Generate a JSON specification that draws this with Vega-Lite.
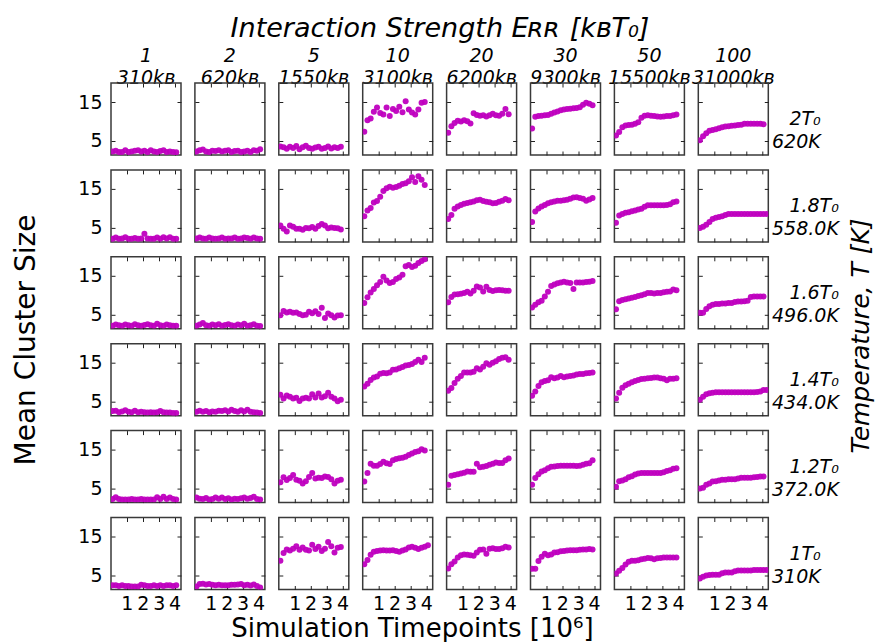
{
"$schema": "https://vega.github.io/schema/vega-lite/v6.json",
"background": "white",
"padding": {"left": 12, "top": 15, "right": 0, "bottom": 0},
"title": {"text": "Simulation Timepoints [10⁶]", "orient": "bottom", "anchor": "middle", "fontSize": 26, "fontWeight": "normal", "font": "DejaVu Sans", "color": "black", "offset": 3, "dx": -31},
"config": {
  "font": "DejaVu Sans",
  "view": {"stroke": "#3a3a3a", "strokeWidth": 1.5},
  "axis": {"labelFont": "DejaVu Sans", "labelColor": "black", "labelFontSize": 19},
  "header": {"labelFont": "DejaVu Sans", "titleFont": "DejaVu Sans", "labelColor": "black", "titleColor": "black", "titleFontWeight": "normal"}
},
"vconcat": [{
  "title": {"text": "Mean Cluster Size", "orient": "left", "anchor": "middle", "fontSize": 28, "fontWeight": "normal", "font": "DejaVu Sans", "color": "black", "offset": 37, "dx": -26},
  "spacing": {"row": 12.9, "column": 11.9},
  "data": {"values": [
{"t":2,"e":1,"x":0.1,"y":2.3},{"t":2,"e":1,"x":0.3,"y":2.5},{"t":2,"e":1,"x":0.5,"y":2.2},{"t":2,"e":1,"x":0.7,"y":2.2},{"t":2,"e":1,"x":0.9,"y":2.6},{"t":2,"e":1,"x":1.1,"y":2.2},{"t":2,"e":1,"x":1.3,"y":2.3},{"t":2,"e":1,"x":1.5,"y":2.5},{"t":2,"e":1,"x":1.7,"y":2.6},{"t":2,"e":1,"x":1.9,"y":2.3},{"t":2,"e":1,"x":2.1,"y":2.5},{"t":2,"e":1,"x":2.3,"y":2.2},{"t":2,"e":1,"x":2.5,"y":2.6},{"t":2,"e":1,"x":2.7,"y":2.3},{"t":2,"e":1,"x":2.9,"y":2.2},{"t":2,"e":1,"x":3.1,"y":2.4},{"t":2,"e":1,"x":3.3,"y":2.6},{"t":2,"e":1,"x":3.5,"y":2.2},{"t":2,"e":1,"x":3.7,"y":2.3},{"t":2,"e":1,"x":3.9,"y":2.2},{"t":2,"e":1,"x":4.1,"y":2.1},
{"t":2,"e":2,"x":0.1,"y":2.3},{"t":2,"e":2,"x":0.3,"y":2.6},{"t":2,"e":2,"x":0.5,"y":2.8},{"t":2,"e":2,"x":0.7,"y":2.3},{"t":2,"e":2,"x":0.9,"y":2.2},{"t":2,"e":2,"x":1.1,"y":2.5},{"t":2,"e":2,"x":1.3,"y":2.4},{"t":2,"e":2,"x":1.5,"y":2.6},{"t":2,"e":2,"x":1.7,"y":2.3},{"t":2,"e":2,"x":1.9,"y":2.5},{"t":2,"e":2,"x":2.1,"y":2.6},{"t":2,"e":2,"x":2.3,"y":2.2},{"t":2,"e":2,"x":2.5,"y":2.4},{"t":2,"e":2,"x":2.7,"y":2.5},{"t":2,"e":2,"x":2.9,"y":2.2},{"t":2,"e":2,"x":3.1,"y":2.3},{"t":2,"e":2,"x":3.3,"y":2.5},{"t":2,"e":2,"x":3.5,"y":2.2},{"t":2,"e":2,"x":3.7,"y":2.6},{"t":2,"e":2,"x":3.9,"y":2.5},{"t":2,"e":2,"x":4.1,"y":2.9},
{"t":2,"e":5,"x":0.1,"y":3.6},{"t":2,"e":5,"x":0.3,"y":3.4},{"t":2,"e":5,"x":0.5,"y":3.0},{"t":2,"e":5,"x":0.7,"y":3.5},{"t":2,"e":5,"x":0.9,"y":3.2},{"t":2,"e":5,"x":1.1,"y":3.7},{"t":2,"e":5,"x":1.3,"y":2.9},{"t":2,"e":5,"x":1.5,"y":3.4},{"t":2,"e":5,"x":1.7,"y":3.8},{"t":2,"e":5,"x":1.9,"y":3.2},{"t":2,"e":5,"x":2.1,"y":3.0},{"t":2,"e":5,"x":2.3,"y":3.3},{"t":2,"e":5,"x":2.5,"y":3.5},{"t":2,"e":5,"x":2.7,"y":3.0},{"t":2,"e":5,"x":2.9,"y":3.2},{"t":2,"e":5,"x":3.1,"y":3.6},{"t":2,"e":5,"x":3.3,"y":3.1},{"t":2,"e":5,"x":3.5,"y":3.4},{"t":2,"e":5,"x":3.7,"y":3.2},{"t":2,"e":5,"x":3.9,"y":3.5},
{"t":2,"e":10,"x":0.1,"y":7.4},{"t":2,"e":10,"x":0.3,"y":10.3},{"t":2,"e":10,"x":0.5,"y":10.8},{"t":2,"e":10,"x":0.7,"y":12.5},{"t":2,"e":10,"x":0.9,"y":13.6},{"t":2,"e":10,"x":1.1,"y":12.2},{"t":2,"e":10,"x":1.3,"y":11.8},{"t":2,"e":10,"x":1.5,"y":13.6},{"t":2,"e":10,"x":1.7,"y":11.4},{"t":2,"e":10,"x":1.9,"y":13.2},{"t":2,"e":10,"x":2.1,"y":12.7},{"t":2,"e":10,"x":2.3,"y":13.8},{"t":2,"e":10,"x":2.5,"y":12.4},{"t":2,"e":10,"x":2.7,"y":15.2},{"t":2,"e":10,"x":2.9,"y":13.1},{"t":2,"e":10,"x":3.1,"y":12.3},{"t":2,"e":10,"x":3.3,"y":11.8},{"t":2,"e":10,"x":3.5,"y":13.1},{"t":2,"e":10,"x":3.7,"y":14.8},{"t":2,"e":10,"x":3.9,"y":15.0},
{"t":2,"e":20,"x":0.1,"y":7.1},{"t":2,"e":20,"x":0.3,"y":8.8},{"t":2,"e":20,"x":0.5,"y":9.6},{"t":2,"e":20,"x":0.7,"y":10.2},{"t":2,"e":20,"x":0.9,"y":10.0},{"t":2,"e":20,"x":1.1,"y":10.3},{"t":2,"e":20,"x":1.3,"y":10.1},{"t":2,"e":20,"x":1.5,"y":9.5},{"t":2,"e":20,"x":1.7,"y":12.1},{"t":2,"e":20,"x":1.9,"y":11.7},{"t":2,"e":20,"x":2.1,"y":11.5},{"t":2,"e":20,"x":2.3,"y":11.6},{"t":2,"e":20,"x":2.5,"y":11.3},{"t":2,"e":20,"x":2.7,"y":11.6},{"t":2,"e":20,"x":2.9,"y":12.0},{"t":2,"e":20,"x":3.1,"y":11.6},{"t":2,"e":20,"x":3.3,"y":11.5},{"t":2,"e":20,"x":3.5,"y":12.0},{"t":2,"e":20,"x":3.7,"y":13.2},{"t":2,"e":20,"x":3.9,"y":11.9},
{"t":2,"e":30,"x":0.1,"y":8.2},{"t":2,"e":30,"x":0.3,"y":11.2},{"t":2,"e":30,"x":0.5,"y":11.4},{"t":2,"e":30,"x":0.7,"y":11.5},{"t":2,"e":30,"x":0.9,"y":11.6},{"t":2,"e":30,"x":1.1,"y":11.7},{"t":2,"e":30,"x":1.3,"y":12.0},{"t":2,"e":30,"x":1.5,"y":12.3},{"t":2,"e":30,"x":1.7,"y":12.6},{"t":2,"e":30,"x":1.9,"y":12.9},{"t":2,"e":30,"x":2.1,"y":13.1},{"t":2,"e":30,"x":2.3,"y":13.2},{"t":2,"e":30,"x":2.5,"y":13.3},{"t":2,"e":30,"x":2.7,"y":13.4},{"t":2,"e":30,"x":2.9,"y":13.5},{"t":2,"e":30,"x":3.1,"y":13.7},{"t":2,"e":30,"x":3.3,"y":14.3},{"t":2,"e":30,"x":3.5,"y":14.8},{"t":2,"e":30,"x":3.7,"y":14.6},{"t":2,"e":30,"x":3.9,"y":14.2},
{"t":2,"e":50,"x":0.1,"y":6.4},{"t":2,"e":50,"x":0.3,"y":7.3},{"t":2,"e":50,"x":0.5,"y":8.5},{"t":2,"e":50,"x":0.7,"y":9.0},{"t":2,"e":50,"x":0.9,"y":9.1},{"t":2,"e":50,"x":1.1,"y":9.2},{"t":2,"e":50,"x":1.3,"y":9.4},{"t":2,"e":50,"x":1.5,"y":9.8},{"t":2,"e":50,"x":1.7,"y":11.0},{"t":2,"e":50,"x":1.9,"y":11.5},{"t":2,"e":50,"x":2.1,"y":11.6},{"t":2,"e":50,"x":2.3,"y":11.5},{"t":2,"e":50,"x":2.5,"y":11.4},{"t":2,"e":50,"x":2.7,"y":11.3},{"t":2,"e":50,"x":2.9,"y":11.2},{"t":2,"e":50,"x":3.1,"y":11.3},{"t":2,"e":50,"x":3.3,"y":11.4},{"t":2,"e":50,"x":3.5,"y":11.4},{"t":2,"e":50,"x":3.7,"y":11.6},{"t":2,"e":50,"x":3.9,"y":11.8},
{"t":2,"e":100,"x":0.1,"y":5.2},{"t":2,"e":100,"x":0.3,"y":6.2},{"t":2,"e":100,"x":0.5,"y":7.0},{"t":2,"e":100,"x":0.7,"y":7.6},{"t":2,"e":100,"x":0.9,"y":7.8},{"t":2,"e":100,"x":1.1,"y":8.0},{"t":2,"e":100,"x":1.3,"y":8.3},{"t":2,"e":100,"x":1.5,"y":8.5},{"t":2,"e":100,"x":1.7,"y":8.7},{"t":2,"e":100,"x":1.9,"y":8.8},{"t":2,"e":100,"x":2.1,"y":8.9},{"t":2,"e":100,"x":2.3,"y":9.0},{"t":2,"e":100,"x":2.5,"y":9.1},{"t":2,"e":100,"x":2.7,"y":9.2},{"t":2,"e":100,"x":2.9,"y":9.4},{"t":2,"e":100,"x":3.1,"y":9.4},{"t":2,"e":100,"x":3.3,"y":9.4},{"t":2,"e":100,"x":3.5,"y":9.4},{"t":2,"e":100,"x":3.7,"y":9.4},{"t":2,"e":100,"x":3.9,"y":9.4},{"t":2,"e":100,"x":4.1,"y":9.3},
{"t":1.8,"e":1,"x":0.1,"y":2.2},{"t":1.8,"e":1,"x":0.3,"y":2.5},{"t":1.8,"e":1,"x":0.5,"y":2.2},{"t":1.8,"e":1,"x":0.7,"y":2.3},{"t":1.8,"e":1,"x":0.9,"y":2.6},{"t":1.8,"e":1,"x":1.1,"y":2.2},{"t":1.8,"e":1,"x":1.3,"y":2.2},{"t":1.8,"e":1,"x":1.5,"y":2.4},{"t":1.8,"e":1,"x":1.7,"y":2.2},{"t":1.8,"e":1,"x":1.9,"y":2.3},{"t":1.8,"e":1,"x":2.1,"y":3.5},{"t":1.8,"e":1,"x":2.3,"y":2.3},{"t":1.8,"e":1,"x":2.5,"y":2.2},{"t":1.8,"e":1,"x":2.7,"y":2.2},{"t":1.8,"e":1,"x":2.9,"y":2.5},{"t":1.8,"e":1,"x":3.1,"y":2.2},{"t":1.8,"e":1,"x":3.3,"y":2.6},{"t":1.8,"e":1,"x":3.5,"y":2.3},{"t":1.8,"e":1,"x":3.7,"y":2.6},{"t":1.8,"e":1,"x":3.9,"y":2.2},{"t":1.8,"e":1,"x":4.1,"y":2.2},
{"t":1.8,"e":2,"x":0.1,"y":2.3},{"t":1.8,"e":2,"x":0.3,"y":2.5},{"t":1.8,"e":2,"x":0.5,"y":2.3},{"t":1.8,"e":2,"x":0.7,"y":2.2},{"t":1.8,"e":2,"x":0.9,"y":2.5},{"t":1.8,"e":2,"x":1.1,"y":2.3},{"t":1.8,"e":2,"x":1.3,"y":2.2},{"t":1.8,"e":2,"x":1.5,"y":2.3},{"t":1.8,"e":2,"x":1.7,"y":2.5},{"t":1.8,"e":2,"x":1.9,"y":2.2},{"t":1.8,"e":2,"x":2.1,"y":2.3},{"t":1.8,"e":2,"x":2.3,"y":2.3},{"t":1.8,"e":2,"x":2.5,"y":2.5},{"t":1.8,"e":2,"x":2.7,"y":2.2},{"t":1.8,"e":2,"x":2.9,"y":2.3},{"t":1.8,"e":2,"x":3.1,"y":2.5},{"t":1.8,"e":2,"x":3.3,"y":2.4},{"t":1.8,"e":2,"x":3.5,"y":2.2},{"t":1.8,"e":2,"x":3.7,"y":2.5},{"t":1.8,"e":2,"x":3.9,"y":2.3},{"t":1.8,"e":2,"x":4.1,"y":2.2},
{"t":1.8,"e":5,"x":0.1,"y":5.6},{"t":1.8,"e":5,"x":0.3,"y":4.8},{"t":1.8,"e":5,"x":0.5,"y":4.1},{"t":1.8,"e":5,"x":0.7,"y":5.6},{"t":1.8,"e":5,"x":0.9,"y":5.3},{"t":1.8,"e":5,"x":1.1,"y":4.8},{"t":1.8,"e":5,"x":1.3,"y":4.8},{"t":1.8,"e":5,"x":1.5,"y":4.5},{"t":1.8,"e":5,"x":1.7,"y":5.0},{"t":1.8,"e":5,"x":1.9,"y":4.9},{"t":1.8,"e":5,"x":2.1,"y":5.2},{"t":1.8,"e":5,"x":2.3,"y":4.8},{"t":1.8,"e":5,"x":2.5,"y":5.5},{"t":1.8,"e":5,"x":2.7,"y":6.0},{"t":1.8,"e":5,"x":2.9,"y":5.6},{"t":1.8,"e":5,"x":3.1,"y":4.9},{"t":1.8,"e":5,"x":3.3,"y":5.1},{"t":1.8,"e":5,"x":3.5,"y":5.0},{"t":1.8,"e":5,"x":3.7,"y":4.9},{"t":1.8,"e":5,"x":3.9,"y":4.6},
{"t":1.8,"e":10,"x":0.1,"y":8.0},{"t":1.8,"e":10,"x":0.3,"y":9.5},{"t":1.8,"e":10,"x":0.5,"y":10.1},{"t":1.8,"e":10,"x":0.7,"y":11.5},{"t":1.8,"e":10,"x":0.9,"y":11.9},{"t":1.8,"e":10,"x":1.1,"y":13.0},{"t":1.8,"e":10,"x":1.3,"y":14.5},{"t":1.8,"e":10,"x":1.5,"y":15.2},{"t":1.8,"e":10,"x":1.7,"y":15.6},{"t":1.8,"e":10,"x":1.9,"y":15.3},{"t":1.8,"e":10,"x":2.1,"y":15.5},{"t":1.8,"e":10,"x":2.3,"y":15.8},{"t":1.8,"e":10,"x":2.5,"y":16.3},{"t":1.8,"e":10,"x":2.7,"y":16.5},{"t":1.8,"e":10,"x":2.9,"y":17.0},{"t":1.8,"e":10,"x":3.1,"y":18.0},{"t":1.8,"e":10,"x":3.3,"y":16.8},{"t":1.8,"e":10,"x":3.5,"y":18.3},{"t":1.8,"e":10,"x":3.7,"y":17.4},{"t":1.8,"e":10,"x":3.9,"y":16.0},
{"t":1.8,"e":20,"x":0.1,"y":7.3},{"t":1.8,"e":20,"x":0.3,"y":8.3},{"t":1.8,"e":20,"x":0.5,"y":9.9},{"t":1.8,"e":20,"x":0.7,"y":10.5},{"t":1.8,"e":20,"x":0.9,"y":10.9},{"t":1.8,"e":20,"x":1.1,"y":11.2},{"t":1.8,"e":20,"x":1.3,"y":11.4},{"t":1.8,"e":20,"x":1.5,"y":11.6},{"t":1.8,"e":20,"x":1.7,"y":11.8},{"t":1.8,"e":20,"x":1.9,"y":12.1},{"t":1.8,"e":20,"x":2.1,"y":12.2},{"t":1.8,"e":20,"x":2.3,"y":11.9},{"t":1.8,"e":20,"x":2.5,"y":11.7},{"t":1.8,"e":20,"x":2.7,"y":11.6},{"t":1.8,"e":20,"x":2.9,"y":11.3},{"t":1.8,"e":20,"x":3.1,"y":11.4},{"t":1.8,"e":20,"x":3.3,"y":11.7},{"t":1.8,"e":20,"x":3.5,"y":12.0},{"t":1.8,"e":20,"x":3.7,"y":12.4},{"t":1.8,"e":20,"x":3.9,"y":12.1},
{"t":1.8,"e":30,"x":0.1,"y":6.5},{"t":1.8,"e":30,"x":0.3,"y":9.2},{"t":1.8,"e":30,"x":0.5,"y":10.0},{"t":1.8,"e":30,"x":0.7,"y":10.5},{"t":1.8,"e":30,"x":0.9,"y":10.9},{"t":1.8,"e":30,"x":1.1,"y":11.3},{"t":1.8,"e":30,"x":1.3,"y":11.6},{"t":1.8,"e":30,"x":1.5,"y":11.8},{"t":1.8,"e":30,"x":1.7,"y":12.0},{"t":1.8,"e":30,"x":1.9,"y":12.0},{"t":1.8,"e":30,"x":2.1,"y":12.1},{"t":1.8,"e":30,"x":2.3,"y":12.2},{"t":1.8,"e":30,"x":2.5,"y":12.5},{"t":1.8,"e":30,"x":2.7,"y":12.8},{"t":1.8,"e":30,"x":2.9,"y":12.9},{"t":1.8,"e":30,"x":3.1,"y":12.7},{"t":1.8,"e":30,"x":3.3,"y":12.5},{"t":1.8,"e":30,"x":3.5,"y":12.0},{"t":1.8,"e":30,"x":3.7,"y":12.3},{"t":1.8,"e":30,"x":3.9,"y":12.7},
{"t":1.8,"e":50,"x":0.1,"y":6.3},{"t":1.8,"e":50,"x":0.3,"y":8.2},{"t":1.8,"e":50,"x":0.5,"y":8.6},{"t":1.8,"e":50,"x":0.7,"y":8.9},{"t":1.8,"e":50,"x":0.9,"y":9.0},{"t":1.8,"e":50,"x":1.1,"y":9.3},{"t":1.8,"e":50,"x":1.3,"y":9.5},{"t":1.8,"e":50,"x":1.5,"y":9.7},{"t":1.8,"e":50,"x":1.7,"y":9.9},{"t":1.8,"e":50,"x":1.9,"y":10.4},{"t":1.8,"e":50,"x":2.1,"y":10.8},{"t":1.8,"e":50,"x":2.3,"y":10.8},{"t":1.8,"e":50,"x":2.5,"y":10.8},{"t":1.8,"e":50,"x":2.7,"y":10.8},{"t":1.8,"e":50,"x":2.9,"y":10.8},{"t":1.8,"e":50,"x":3.1,"y":10.8},{"t":1.8,"e":50,"x":3.3,"y":10.9},{"t":1.8,"e":50,"x":3.5,"y":11.1},{"t":1.8,"e":50,"x":3.7,"y":11.6},{"t":1.8,"e":50,"x":3.9,"y":11.8},
{"t":1.8,"e":100,"x":0.1,"y":5.0},{"t":1.8,"e":100,"x":0.3,"y":5.3},{"t":1.8,"e":100,"x":0.5,"y":5.8},{"t":1.8,"e":100,"x":0.7,"y":6.5},{"t":1.8,"e":100,"x":0.9,"y":7.3},{"t":1.8,"e":100,"x":1.1,"y":7.6},{"t":1.8,"e":100,"x":1.3,"y":7.8},{"t":1.8,"e":100,"x":1.5,"y":8.0},{"t":1.8,"e":100,"x":1.7,"y":8.3},{"t":1.8,"e":100,"x":1.9,"y":8.6},{"t":1.8,"e":100,"x":2.1,"y":8.6},{"t":1.8,"e":100,"x":2.3,"y":8.6},{"t":1.8,"e":100,"x":2.5,"y":8.6},{"t":1.8,"e":100,"x":2.7,"y":8.6},{"t":1.8,"e":100,"x":2.9,"y":8.6},{"t":1.8,"e":100,"x":3.1,"y":8.6},{"t":1.8,"e":100,"x":3.3,"y":8.6},{"t":1.8,"e":100,"x":3.5,"y":8.6},{"t":1.8,"e":100,"x":3.7,"y":8.6},{"t":1.8,"e":100,"x":3.9,"y":8.6},{"t":1.8,"e":100,"x":4.1,"y":8.6},{"t":1.8,"e":100,"x":4.3,"y":8.6},
{"t":1.6,"e":1,"x":0.1,"y":2.2},{"t":1.6,"e":1,"x":0.3,"y":2.5},{"t":1.6,"e":1,"x":0.5,"y":2.3},{"t":1.6,"e":1,"x":0.7,"y":2.2},{"t":1.6,"e":1,"x":0.9,"y":2.5},{"t":1.6,"e":1,"x":1.1,"y":2.3},{"t":1.6,"e":1,"x":1.3,"y":2.2},{"t":1.6,"e":1,"x":1.5,"y":2.6},{"t":1.6,"e":1,"x":1.7,"y":2.3},{"t":1.6,"e":1,"x":1.9,"y":2.2},{"t":1.6,"e":1,"x":2.1,"y":2.4},{"t":1.6,"e":1,"x":2.3,"y":2.6},{"t":1.6,"e":1,"x":2.5,"y":2.3},{"t":1.6,"e":1,"x":2.7,"y":2.2},{"t":1.6,"e":1,"x":2.9,"y":2.7},{"t":1.6,"e":1,"x":3.1,"y":2.3},{"t":1.6,"e":1,"x":3.3,"y":2.2},{"t":1.6,"e":1,"x":3.5,"y":2.5},{"t":1.6,"e":1,"x":3.7,"y":2.3},{"t":1.6,"e":1,"x":3.9,"y":2.2},{"t":1.6,"e":1,"x":4.1,"y":2.2},
{"t":1.6,"e":2,"x":0.1,"y":2.2},{"t":1.6,"e":2,"x":0.3,"y":2.5},{"t":1.6,"e":2,"x":0.5,"y":2.9},{"t":1.6,"e":2,"x":0.7,"y":2.3},{"t":1.6,"e":2,"x":0.9,"y":2.2},{"t":1.6,"e":2,"x":1.1,"y":2.5},{"t":1.6,"e":2,"x":1.3,"y":2.3},{"t":1.6,"e":2,"x":1.5,"y":2.6},{"t":1.6,"e":2,"x":1.7,"y":2.2},{"t":1.6,"e":2,"x":1.9,"y":2.4},{"t":1.6,"e":2,"x":2.1,"y":2.6},{"t":1.6,"e":2,"x":2.3,"y":2.3},{"t":1.6,"e":2,"x":2.5,"y":2.2},{"t":1.6,"e":2,"x":2.7,"y":2.5},{"t":1.6,"e":2,"x":2.9,"y":2.3},{"t":1.6,"e":2,"x":3.1,"y":2.7},{"t":1.6,"e":2,"x":3.3,"y":2.2},{"t":1.6,"e":2,"x":3.5,"y":2.3},{"t":1.6,"e":2,"x":3.7,"y":2.6},{"t":1.6,"e":2,"x":3.9,"y":2.2},{"t":1.6,"e":2,"x":4.1,"y":2.1},
{"t":1.6,"e":5,"x":0.1,"y":4.9},{"t":1.6,"e":5,"x":0.3,"y":6.0},{"t":1.6,"e":5,"x":0.5,"y":5.6},{"t":1.6,"e":5,"x":0.7,"y":5.8},{"t":1.6,"e":5,"x":0.9,"y":5.5},{"t":1.6,"e":5,"x":1.1,"y":5.6},{"t":1.6,"e":5,"x":1.3,"y":5.2},{"t":1.6,"e":5,"x":1.5,"y":4.9},{"t":1.6,"e":5,"x":1.7,"y":5.0},{"t":1.6,"e":5,"x":1.9,"y":5.8},{"t":1.6,"e":5,"x":2.1,"y":5.4},{"t":1.6,"e":5,"x":2.3,"y":5.9},{"t":1.6,"e":5,"x":2.5,"y":5.2},{"t":1.6,"e":5,"x":2.7,"y":6.8},{"t":1.6,"e":5,"x":2.9,"y":4.2},{"t":1.6,"e":5,"x":3.1,"y":5.3},{"t":1.6,"e":5,"x":3.3,"y":4.9},{"t":1.6,"e":5,"x":3.5,"y":4.3},{"t":1.6,"e":5,"x":3.7,"y":4.8},{"t":1.6,"e":5,"x":3.9,"y":4.9},
{"t":1.6,"e":10,"x":0.1,"y":8.0},{"t":1.6,"e":10,"x":0.3,"y":9.5},{"t":1.6,"e":10,"x":0.5,"y":10.7},{"t":1.6,"e":10,"x":0.7,"y":11.6},{"t":1.6,"e":10,"x":0.9,"y":12.6},{"t":1.6,"e":10,"x":1.1,"y":13.4},{"t":1.6,"e":10,"x":1.3,"y":14.8},{"t":1.6,"e":10,"x":1.5,"y":13.8},{"t":1.6,"e":10,"x":1.7,"y":13.2},{"t":1.6,"e":10,"x":1.9,"y":13.4},{"t":1.6,"e":10,"x":2.1,"y":14.2},{"t":1.6,"e":10,"x":2.3,"y":14.6},{"t":1.6,"e":10,"x":2.5,"y":15.3},{"t":1.6,"e":10,"x":2.7,"y":17.5},{"t":1.6,"e":10,"x":2.9,"y":17.8},{"t":1.6,"e":10,"x":3.1,"y":17.3},{"t":1.6,"e":10,"x":3.3,"y":17.6},{"t":1.6,"e":10,"x":3.5,"y":18.3},{"t":1.6,"e":10,"x":3.7,"y":18.8},{"t":1.6,"e":10,"x":3.9,"y":19.3},
{"t":1.6,"e":20,"x":0.1,"y":8.2},{"t":1.6,"e":20,"x":0.3,"y":9.6},{"t":1.6,"e":20,"x":0.5,"y":10.2},{"t":1.6,"e":20,"x":0.7,"y":10.3},{"t":1.6,"e":20,"x":0.9,"y":10.4},{"t":1.6,"e":20,"x":1.1,"y":10.6},{"t":1.6,"e":20,"x":1.3,"y":10.9},{"t":1.6,"e":20,"x":1.5,"y":10.5},{"t":1.6,"e":20,"x":1.7,"y":11.2},{"t":1.6,"e":20,"x":1.9,"y":12.3},{"t":1.6,"e":20,"x":2.1,"y":12.0},{"t":1.6,"e":20,"x":2.3,"y":11.0},{"t":1.6,"e":20,"x":2.5,"y":12.2},{"t":1.6,"e":20,"x":2.7,"y":11.4},{"t":1.6,"e":20,"x":2.9,"y":11.1},{"t":1.6,"e":20,"x":3.1,"y":11.3},{"t":1.6,"e":20,"x":3.3,"y":11.4},{"t":1.6,"e":20,"x":3.5,"y":11.3},{"t":1.6,"e":20,"x":3.7,"y":11.2},{"t":1.6,"e":20,"x":3.9,"y":11.2},
{"t":1.6,"e":30,"x":0.1,"y":6.9},{"t":1.6,"e":30,"x":0.3,"y":7.6},{"t":1.6,"e":30,"x":0.5,"y":8.2},{"t":1.6,"e":30,"x":0.7,"y":8.6},{"t":1.6,"e":30,"x":0.9,"y":9.7},{"t":1.6,"e":30,"x":1.1,"y":10.9},{"t":1.6,"e":30,"x":1.3,"y":12.4},{"t":1.6,"e":30,"x":1.5,"y":12.8},{"t":1.6,"e":30,"x":1.7,"y":13.1},{"t":1.6,"e":30,"x":1.9,"y":13.3},{"t":1.6,"e":30,"x":2.1,"y":13.5},{"t":1.6,"e":30,"x":2.3,"y":13.3},{"t":1.6,"e":30,"x":2.5,"y":13.2},{"t":1.6,"e":30,"x":2.7,"y":11.6},{"t":1.6,"e":30,"x":2.9,"y":13.3},{"t":1.6,"e":30,"x":3.1,"y":13.3},{"t":1.6,"e":30,"x":3.3,"y":13.3},{"t":1.6,"e":30,"x":3.5,"y":13.4},{"t":1.6,"e":30,"x":3.7,"y":13.5},{"t":1.6,"e":30,"x":3.9,"y":13.7},
{"t":1.6,"e":50,"x":0.1,"y":6.4},{"t":1.6,"e":50,"x":0.3,"y":8.5},{"t":1.6,"e":50,"x":0.5,"y":8.8},{"t":1.6,"e":50,"x":0.7,"y":9.0},{"t":1.6,"e":50,"x":0.9,"y":9.2},{"t":1.6,"e":50,"x":1.1,"y":9.4},{"t":1.6,"e":50,"x":1.3,"y":9.6},{"t":1.6,"e":50,"x":1.5,"y":9.8},{"t":1.6,"e":50,"x":1.7,"y":10.0},{"t":1.6,"e":50,"x":1.9,"y":10.3},{"t":1.6,"e":50,"x":2.1,"y":10.6},{"t":1.6,"e":50,"x":2.3,"y":10.6},{"t":1.6,"e":50,"x":2.5,"y":10.5},{"t":1.6,"e":50,"x":2.7,"y":10.6},{"t":1.6,"e":50,"x":2.9,"y":10.6},{"t":1.6,"e":50,"x":3.1,"y":10.8},{"t":1.6,"e":50,"x":3.3,"y":10.9},{"t":1.6,"e":50,"x":3.5,"y":11.0},{"t":1.6,"e":50,"x":3.7,"y":11.5},{"t":1.6,"e":50,"x":3.9,"y":11.3},
{"t":1.6,"e":100,"x":0.1,"y":5.5},{"t":1.6,"e":100,"x":0.3,"y":5.5},{"t":1.6,"e":100,"x":0.5,"y":6.5},{"t":1.6,"e":100,"x":0.7,"y":7.2},{"t":1.6,"e":100,"x":0.9,"y":7.6},{"t":1.6,"e":100,"x":1.1,"y":7.8},{"t":1.6,"e":100,"x":1.3,"y":7.8},{"t":1.6,"e":100,"x":1.5,"y":7.9},{"t":1.6,"e":100,"x":1.7,"y":7.9},{"t":1.6,"e":100,"x":1.9,"y":8.0},{"t":1.6,"e":100,"x":2.1,"y":8.0},{"t":1.6,"e":100,"x":2.3,"y":8.3},{"t":1.6,"e":100,"x":2.5,"y":8.4},{"t":1.6,"e":100,"x":2.7,"y":8.4},{"t":1.6,"e":100,"x":2.9,"y":8.5},{"t":1.6,"e":100,"x":3.1,"y":8.6},{"t":1.6,"e":100,"x":3.3,"y":9.6},{"t":1.6,"e":100,"x":3.5,"y":9.7},{"t":1.6,"e":100,"x":3.7,"y":9.7},{"t":1.6,"e":100,"x":3.9,"y":9.7},{"t":1.6,"e":100,"x":4.1,"y":9.7},
{"t":1.4,"e":1,"x":0.1,"y":2.6},{"t":1.4,"e":1,"x":0.3,"y":2.7},{"t":1.4,"e":1,"x":0.5,"y":2.3},{"t":1.4,"e":1,"x":0.7,"y":2.5},{"t":1.4,"e":1,"x":0.9,"y":2.8},{"t":1.4,"e":1,"x":1.1,"y":2.4},{"t":1.4,"e":1,"x":1.3,"y":2.3},{"t":1.4,"e":1,"x":1.5,"y":2.7},{"t":1.4,"e":1,"x":1.7,"y":2.3},{"t":1.4,"e":1,"x":1.9,"y":2.4},{"t":1.4,"e":1,"x":2.1,"y":2.3},{"t":1.4,"e":1,"x":2.3,"y":2.2},{"t":1.4,"e":1,"x":2.5,"y":2.3},{"t":1.4,"e":1,"x":2.7,"y":2.2},{"t":1.4,"e":1,"x":2.9,"y":2.3},{"t":1.4,"e":1,"x":3.1,"y":2.6},{"t":1.4,"e":1,"x":3.3,"y":2.3},{"t":1.4,"e":1,"x":3.5,"y":2.2},{"t":1.4,"e":1,"x":3.7,"y":2.2},{"t":1.4,"e":1,"x":3.9,"y":2.1},{"t":1.4,"e":1,"x":4.1,"y":2.1},
{"t":1.4,"e":2,"x":0.1,"y":2.4},{"t":1.4,"e":2,"x":0.3,"y":2.7},{"t":1.4,"e":2,"x":0.5,"y":2.4},{"t":1.4,"e":2,"x":0.7,"y":2.6},{"t":1.4,"e":2,"x":0.9,"y":2.3},{"t":1.4,"e":2,"x":1.1,"y":2.5},{"t":1.4,"e":2,"x":1.3,"y":2.4},{"t":1.4,"e":2,"x":1.5,"y":2.7},{"t":1.4,"e":2,"x":1.7,"y":2.6},{"t":1.4,"e":2,"x":1.9,"y":2.8},{"t":1.4,"e":2,"x":2.1,"y":2.5},{"t":1.4,"e":2,"x":2.3,"y":2.9},{"t":1.4,"e":2,"x":2.5,"y":2.6},{"t":1.4,"e":2,"x":2.7,"y":2.4},{"t":1.4,"e":2,"x":2.9,"y":2.8},{"t":1.4,"e":2,"x":3.1,"y":2.5},{"t":1.4,"e":2,"x":3.3,"y":2.9},{"t":1.4,"e":2,"x":3.5,"y":2.4},{"t":1.4,"e":2,"x":3.7,"y":2.3},{"t":1.4,"e":2,"x":3.9,"y":2.2},{"t":1.4,"e":2,"x":4.1,"y":2.1},
{"t":1.4,"e":5,"x":0.1,"y":6.8},{"t":1.4,"e":5,"x":0.3,"y":5.8},{"t":1.4,"e":5,"x":0.5,"y":6.6},{"t":1.4,"e":5,"x":0.7,"y":6.3},{"t":1.4,"e":5,"x":0.9,"y":5.8},{"t":1.4,"e":5,"x":1.1,"y":6.0},{"t":1.4,"e":5,"x":1.3,"y":5.2},{"t":1.4,"e":5,"x":1.5,"y":5.8},{"t":1.4,"e":5,"x":1.7,"y":6.0},{"t":1.4,"e":5,"x":1.9,"y":5.8},{"t":1.4,"e":5,"x":2.1,"y":6.9},{"t":1.4,"e":5,"x":2.3,"y":6.1},{"t":1.4,"e":5,"x":2.5,"y":7.1},{"t":1.4,"e":5,"x":2.7,"y":6.1},{"t":1.4,"e":5,"x":2.9,"y":6.4},{"t":1.4,"e":5,"x":3.1,"y":7.3},{"t":1.4,"e":5,"x":3.3,"y":6.3},{"t":1.4,"e":5,"x":3.5,"y":5.8},{"t":1.4,"e":5,"x":3.7,"y":5.1},{"t":1.4,"e":5,"x":3.9,"y":5.5},
{"t":1.4,"e":10,"x":0.1,"y":8.9},{"t":1.4,"e":10,"x":0.3,"y":9.6},{"t":1.4,"e":10,"x":0.5,"y":10.6},{"t":1.4,"e":10,"x":0.7,"y":11.2},{"t":1.4,"e":10,"x":0.9,"y":11.5},{"t":1.4,"e":10,"x":1.1,"y":12.2},{"t":1.4,"e":10,"x":1.3,"y":12.4},{"t":1.4,"e":10,"x":1.5,"y":12.3},{"t":1.4,"e":10,"x":1.7,"y":12.5},{"t":1.4,"e":10,"x":1.9,"y":13.2},{"t":1.4,"e":10,"x":2.1,"y":13.3},{"t":1.4,"e":10,"x":2.3,"y":13.6},{"t":1.4,"e":10,"x":2.5,"y":13.9},{"t":1.4,"e":10,"x":2.7,"y":14.3},{"t":1.4,"e":10,"x":2.9,"y":14.4},{"t":1.4,"e":10,"x":3.1,"y":14.7},{"t":1.4,"e":10,"x":3.3,"y":15.2},{"t":1.4,"e":10,"x":3.5,"y":15.8},{"t":1.4,"e":10,"x":3.7,"y":15.2},{"t":1.4,"e":10,"x":3.9,"y":16.3},
{"t":1.4,"e":20,"x":0.1,"y":7.8},{"t":1.4,"e":20,"x":0.3,"y":8.5},{"t":1.4,"e":20,"x":0.5,"y":9.8},{"t":1.4,"e":20,"x":0.7,"y":10.9},{"t":1.4,"e":20,"x":0.9,"y":11.6},{"t":1.4,"e":20,"x":1.1,"y":12.5},{"t":1.4,"e":20,"x":1.3,"y":12.5},{"t":1.4,"e":20,"x":1.5,"y":12.5},{"t":1.4,"e":20,"x":1.7,"y":12.7},{"t":1.4,"e":20,"x":1.9,"y":13.6},{"t":1.4,"e":20,"x":2.1,"y":13.3},{"t":1.4,"e":20,"x":2.3,"y":14.0},{"t":1.4,"e":20,"x":2.5,"y":14.9},{"t":1.4,"e":20,"x":2.7,"y":14.5},{"t":1.4,"e":20,"x":2.9,"y":15.0},{"t":1.4,"e":20,"x":3.1,"y":15.4},{"t":1.4,"e":20,"x":3.3,"y":16.0},{"t":1.4,"e":20,"x":3.5,"y":16.3},{"t":1.4,"e":20,"x":3.7,"y":16.4},{"t":1.4,"e":20,"x":3.9,"y":15.8},
{"t":1.4,"e":30,"x":0.1,"y":6.5},{"t":1.4,"e":30,"x":0.3,"y":7.6},{"t":1.4,"e":30,"x":0.5,"y":9.0},{"t":1.4,"e":30,"x":0.7,"y":10.0},{"t":1.4,"e":30,"x":0.9,"y":10.3},{"t":1.4,"e":30,"x":1.1,"y":10.5},{"t":1.4,"e":30,"x":1.3,"y":11.3},{"t":1.4,"e":30,"x":1.5,"y":11.0},{"t":1.4,"e":30,"x":1.7,"y":11.2},{"t":1.4,"e":30,"x":1.9,"y":11.6},{"t":1.4,"e":30,"x":2.1,"y":11.3},{"t":1.4,"e":30,"x":2.3,"y":11.5},{"t":1.4,"e":30,"x":2.5,"y":11.6},{"t":1.4,"e":30,"x":2.7,"y":11.7},{"t":1.4,"e":30,"x":2.9,"y":12.0},{"t":1.4,"e":30,"x":3.1,"y":12.1},{"t":1.4,"e":30,"x":3.3,"y":12.1},{"t":1.4,"e":30,"x":3.5,"y":12.3},{"t":1.4,"e":30,"x":3.7,"y":12.4},{"t":1.4,"e":30,"x":3.9,"y":12.5},
{"t":1.4,"e":50,"x":0.1,"y":5.8},{"t":1.4,"e":50,"x":0.3,"y":7.3},{"t":1.4,"e":50,"x":0.5,"y":8.6},{"t":1.4,"e":50,"x":0.7,"y":9.2},{"t":1.4,"e":50,"x":0.9,"y":9.6},{"t":1.4,"e":50,"x":1.1,"y":10.0},{"t":1.4,"e":50,"x":1.3,"y":10.3},{"t":1.4,"e":50,"x":1.5,"y":10.6},{"t":1.4,"e":50,"x":1.7,"y":10.8},{"t":1.4,"e":50,"x":1.9,"y":10.9},{"t":1.4,"e":50,"x":2.1,"y":11.0},{"t":1.4,"e":50,"x":2.3,"y":11.1},{"t":1.4,"e":50,"x":2.5,"y":11.2},{"t":1.4,"e":50,"x":2.7,"y":11.2},{"t":1.4,"e":50,"x":2.9,"y":11.0},{"t":1.4,"e":50,"x":3.1,"y":10.9},{"t":1.4,"e":50,"x":3.3,"y":10.5},{"t":1.4,"e":50,"x":3.5,"y":10.9},{"t":1.4,"e":50,"x":3.7,"y":10.9},{"t":1.4,"e":50,"x":3.9,"y":11.0},
{"t":1.4,"e":100,"x":0.1,"y":5.5},{"t":1.4,"e":100,"x":0.3,"y":6.3},{"t":1.4,"e":100,"x":0.5,"y":6.9},{"t":1.4,"e":100,"x":0.7,"y":7.2},{"t":1.4,"e":100,"x":0.9,"y":7.3},{"t":1.4,"e":100,"x":1.1,"y":7.4},{"t":1.4,"e":100,"x":1.3,"y":7.4},{"t":1.4,"e":100,"x":1.5,"y":7.4},{"t":1.4,"e":100,"x":1.7,"y":7.4},{"t":1.4,"e":100,"x":1.9,"y":7.4},{"t":1.4,"e":100,"x":2.1,"y":7.4},{"t":1.4,"e":100,"x":2.3,"y":7.4},{"t":1.4,"e":100,"x":2.5,"y":7.4},{"t":1.4,"e":100,"x":2.7,"y":7.4},{"t":1.4,"e":100,"x":2.9,"y":7.4},{"t":1.4,"e":100,"x":3.1,"y":7.4},{"t":1.4,"e":100,"x":3.3,"y":7.4},{"t":1.4,"e":100,"x":3.5,"y":7.4},{"t":1.4,"e":100,"x":3.7,"y":7.5},{"t":1.4,"e":100,"x":3.9,"y":7.6},{"t":1.4,"e":100,"x":4.1,"y":8.0},{"t":1.4,"e":100,"x":4.3,"y":8.0},
{"t":1.2,"e":1,"x":0.1,"y":2.3},{"t":1.2,"e":1,"x":0.3,"y":2.8},{"t":1.2,"e":1,"x":0.5,"y":2.3},{"t":1.2,"e":1,"x":0.7,"y":2.2},{"t":1.2,"e":1,"x":0.9,"y":2.2},{"t":1.2,"e":1,"x":1.1,"y":2.2},{"t":1.2,"e":1,"x":1.3,"y":2.3},{"t":1.2,"e":1,"x":1.5,"y":2.2},{"t":1.2,"e":1,"x":1.7,"y":2.2},{"t":1.2,"e":1,"x":1.9,"y":2.3},{"t":1.2,"e":1,"x":2.1,"y":2.2},{"t":1.2,"e":1,"x":2.3,"y":2.2},{"t":1.2,"e":1,"x":2.5,"y":2.2},{"t":1.2,"e":1,"x":2.7,"y":2.2},{"t":1.2,"e":1,"x":2.9,"y":2.8},{"t":1.2,"e":1,"x":3.1,"y":2.3},{"t":1.2,"e":1,"x":3.3,"y":2.9},{"t":1.2,"e":1,"x":3.5,"y":2.3},{"t":1.2,"e":1,"x":3.7,"y":2.7},{"t":1.2,"e":1,"x":3.9,"y":2.3},{"t":1.2,"e":1,"x":4.1,"y":2.2},
{"t":1.2,"e":2,"x":0.1,"y":2.7},{"t":1.2,"e":2,"x":0.3,"y":2.4},{"t":1.2,"e":2,"x":0.5,"y":2.3},{"t":1.2,"e":2,"x":0.7,"y":2.6},{"t":1.2,"e":2,"x":0.9,"y":2.2},{"t":1.2,"e":2,"x":1.1,"y":2.3},{"t":1.2,"e":2,"x":1.3,"y":2.7},{"t":1.2,"e":2,"x":1.5,"y":2.4},{"t":1.2,"e":2,"x":1.7,"y":2.7},{"t":1.2,"e":2,"x":1.9,"y":2.3},{"t":1.2,"e":2,"x":2.1,"y":2.5},{"t":1.2,"e":2,"x":2.3,"y":2.2},{"t":1.2,"e":2,"x":2.5,"y":2.4},{"t":1.2,"e":2,"x":2.7,"y":2.3},{"t":1.2,"e":2,"x":2.9,"y":2.5},{"t":1.2,"e":2,"x":3.1,"y":2.7},{"t":1.2,"e":2,"x":3.3,"y":2.4},{"t":1.2,"e":2,"x":3.5,"y":2.6},{"t":1.2,"e":2,"x":3.7,"y":2.9},{"t":1.2,"e":2,"x":3.9,"y":2.3},{"t":1.2,"e":2,"x":4.1,"y":2.2},
{"t":1.2,"e":5,"x":0.1,"y":6.6},{"t":1.2,"e":5,"x":0.3,"y":7.9},{"t":1.2,"e":5,"x":0.5,"y":7.2},{"t":1.2,"e":5,"x":0.7,"y":7.7},{"t":1.2,"e":5,"x":0.9,"y":8.5},{"t":1.2,"e":5,"x":1.1,"y":7.3},{"t":1.2,"e":5,"x":1.3,"y":7.0},{"t":1.2,"e":5,"x":1.5,"y":6.3},{"t":1.2,"e":5,"x":1.7,"y":6.9},{"t":1.2,"e":5,"x":1.9,"y":8.0},{"t":1.2,"e":5,"x":2.1,"y":9.0},{"t":1.2,"e":5,"x":2.3,"y":7.6},{"t":1.2,"e":5,"x":2.5,"y":7.8},{"t":1.2,"e":5,"x":2.7,"y":7.7},{"t":1.2,"e":5,"x":2.9,"y":8.1},{"t":1.2,"e":5,"x":3.1,"y":8.0},{"t":1.2,"e":5,"x":3.3,"y":7.4},{"t":1.2,"e":5,"x":3.5,"y":6.3},{"t":1.2,"e":5,"x":3.7,"y":7.0},{"t":1.2,"e":5,"x":3.9,"y":7.3},
{"t":1.2,"e":10,"x":0.1,"y":6.8},{"t":1.2,"e":10,"x":0.3,"y":9.0},{"t":1.2,"e":10,"x":0.5,"y":11.4},{"t":1.2,"e":10,"x":0.7,"y":10.9},{"t":1.2,"e":10,"x":0.9,"y":10.9},{"t":1.2,"e":10,"x":1.1,"y":11.3},{"t":1.2,"e":10,"x":1.3,"y":11.9},{"t":1.2,"e":10,"x":1.5,"y":11.5},{"t":1.2,"e":10,"x":1.7,"y":11.3},{"t":1.2,"e":10,"x":1.9,"y":12.3},{"t":1.2,"e":10,"x":2.1,"y":12.6},{"t":1.2,"e":10,"x":2.3,"y":12.8},{"t":1.2,"e":10,"x":2.5,"y":12.9},{"t":1.2,"e":10,"x":2.7,"y":13.2},{"t":1.2,"e":10,"x":2.9,"y":13.6},{"t":1.2,"e":10,"x":3.1,"y":14.0},{"t":1.2,"e":10,"x":3.3,"y":14.4},{"t":1.2,"e":10,"x":3.5,"y":14.6},{"t":1.2,"e":10,"x":3.7,"y":15.1},{"t":1.2,"e":10,"x":3.9,"y":14.8},
{"t":1.2,"e":20,"x":0.1,"y":6.0},{"t":1.2,"e":20,"x":0.3,"y":8.3},{"t":1.2,"e":20,"x":0.5,"y":8.5},{"t":1.2,"e":20,"x":0.7,"y":8.7},{"t":1.2,"e":20,"x":0.9,"y":8.9},{"t":1.2,"e":20,"x":1.1,"y":9.1},{"t":1.2,"e":20,"x":1.3,"y":9.4},{"t":1.2,"e":20,"x":1.5,"y":9.3},{"t":1.2,"e":20,"x":1.7,"y":9.3},{"t":1.2,"e":20,"x":1.9,"y":11.4},{"t":1.2,"e":20,"x":2.1,"y":10.5},{"t":1.2,"e":20,"x":2.3,"y":10.6},{"t":1.2,"e":20,"x":2.5,"y":10.8},{"t":1.2,"e":20,"x":2.7,"y":11.1},{"t":1.2,"e":20,"x":2.9,"y":11.4},{"t":1.2,"e":20,"x":3.1,"y":11.7},{"t":1.2,"e":20,"x":3.3,"y":11.6},{"t":1.2,"e":20,"x":3.5,"y":11.6},{"t":1.2,"e":20,"x":3.7,"y":12.3},{"t":1.2,"e":20,"x":3.9,"y":12.7},
{"t":1.2,"e":30,"x":0.1,"y":6.0},{"t":1.2,"e":30,"x":0.3,"y":7.7},{"t":1.2,"e":30,"x":0.5,"y":8.7},{"t":1.2,"e":30,"x":0.7,"y":9.4},{"t":1.2,"e":30,"x":0.9,"y":9.7},{"t":1.2,"e":30,"x":1.1,"y":10.2},{"t":1.2,"e":30,"x":1.3,"y":10.6},{"t":1.2,"e":30,"x":1.5,"y":10.7},{"t":1.2,"e":30,"x":1.7,"y":10.8},{"t":1.2,"e":30,"x":1.9,"y":10.9},{"t":1.2,"e":30,"x":2.1,"y":10.9},{"t":1.2,"e":30,"x":2.3,"y":10.9},{"t":1.2,"e":30,"x":2.5,"y":10.9},{"t":1.2,"e":30,"x":2.7,"y":10.9},{"t":1.2,"e":30,"x":2.9,"y":10.8},{"t":1.2,"e":30,"x":3.1,"y":10.9},{"t":1.2,"e":30,"x":3.3,"y":11.1},{"t":1.2,"e":30,"x":3.5,"y":11.4},{"t":1.2,"e":30,"x":3.7,"y":11.5},{"t":1.2,"e":30,"x":3.9,"y":12.3},
{"t":1.2,"e":50,"x":0.1,"y":5.5},{"t":1.2,"e":50,"x":0.3,"y":6.9},{"t":1.2,"e":50,"x":0.5,"y":7.1},{"t":1.2,"e":50,"x":0.7,"y":7.4},{"t":1.2,"e":50,"x":0.9,"y":7.9},{"t":1.2,"e":50,"x":1.1,"y":8.2},{"t":1.2,"e":50,"x":1.3,"y":8.6},{"t":1.2,"e":50,"x":1.5,"y":8.9},{"t":1.2,"e":50,"x":1.7,"y":9.0},{"t":1.2,"e":50,"x":1.9,"y":9.0},{"t":1.2,"e":50,"x":2.1,"y":9.0},{"t":1.2,"e":50,"x":2.3,"y":9.0},{"t":1.2,"e":50,"x":2.5,"y":9.0},{"t":1.2,"e":50,"x":2.7,"y":9.0},{"t":1.2,"e":50,"x":2.9,"y":9.0},{"t":1.2,"e":50,"x":3.1,"y":9.2},{"t":1.2,"e":50,"x":3.3,"y":9.5},{"t":1.2,"e":50,"x":3.5,"y":9.7},{"t":1.2,"e":50,"x":3.7,"y":10.1},{"t":1.2,"e":50,"x":3.9,"y":10.2},
{"t":1.2,"e":100,"x":0.1,"y":5.0},{"t":1.2,"e":100,"x":0.3,"y":5.2},{"t":1.2,"e":100,"x":0.5,"y":6.0},{"t":1.2,"e":100,"x":0.7,"y":6.3},{"t":1.2,"e":100,"x":0.9,"y":6.8},{"t":1.2,"e":100,"x":1.1,"y":6.9},{"t":1.2,"e":100,"x":1.3,"y":7.1},{"t":1.2,"e":100,"x":1.5,"y":7.3},{"t":1.2,"e":100,"x":1.7,"y":7.3},{"t":1.2,"e":100,"x":1.9,"y":7.4},{"t":1.2,"e":100,"x":2.1,"y":7.4},{"t":1.2,"e":100,"x":2.3,"y":7.4},{"t":1.2,"e":100,"x":2.5,"y":7.6},{"t":1.2,"e":100,"x":2.7,"y":7.8},{"t":1.2,"e":100,"x":2.9,"y":7.8},{"t":1.2,"e":100,"x":3.1,"y":7.8},{"t":1.2,"e":100,"x":3.3,"y":7.8},{"t":1.2,"e":100,"x":3.5,"y":7.9},{"t":1.2,"e":100,"x":3.7,"y":8.0},{"t":1.2,"e":100,"x":3.9,"y":8.1},{"t":1.2,"e":100,"x":4.1,"y":8.1},
{"t":1,"e":1,"x":0.1,"y":2.5},{"t":1,"e":1,"x":0.3,"y":2.5},{"t":1,"e":1,"x":0.5,"y":2.3},{"t":1,"e":1,"x":0.7,"y":2.5},{"t":1,"e":1,"x":0.9,"y":2.3},{"t":1,"e":1,"x":1.1,"y":2.3},{"t":1,"e":1,"x":1.3,"y":2.2},{"t":1,"e":1,"x":1.5,"y":2.2},{"t":1,"e":1,"x":1.7,"y":2.2},{"t":1,"e":1,"x":1.9,"y":2.6},{"t":1,"e":1,"x":2.1,"y":2.5},{"t":1,"e":1,"x":2.3,"y":2.3},{"t":1,"e":1,"x":2.5,"y":2.3},{"t":1,"e":1,"x":2.7,"y":2.5},{"t":1,"e":1,"x":2.9,"y":2.3},{"t":1,"e":1,"x":3.1,"y":2.5},{"t":1,"e":1,"x":3.3,"y":2.3},{"t":1,"e":1,"x":3.5,"y":2.5},{"t":1,"e":1,"x":3.7,"y":2.5},{"t":1,"e":1,"x":3.9,"y":2.3},{"t":1,"e":1,"x":4.1,"y":2.5},
{"t":1,"e":2,"x":0.1,"y":2.2},{"t":1,"e":2,"x":0.3,"y":2.8},{"t":1,"e":2,"x":0.5,"y":2.9},{"t":1,"e":2,"x":0.7,"y":2.7},{"t":1,"e":2,"x":0.9,"y":2.8},{"t":1,"e":2,"x":1.1,"y":2.6},{"t":1,"e":2,"x":1.3,"y":2.5},{"t":1,"e":2,"x":1.5,"y":2.6},{"t":1,"e":2,"x":1.7,"y":2.5},{"t":1,"e":2,"x":1.9,"y":2.5},{"t":1,"e":2,"x":2.1,"y":2.5},{"t":1,"e":2,"x":2.3,"y":2.6},{"t":1,"e":2,"x":2.5,"y":2.6},{"t":1,"e":2,"x":2.7,"y":2.7},{"t":1,"e":2,"x":2.9,"y":2.8},{"t":1,"e":2,"x":3.1,"y":2.5},{"t":1,"e":2,"x":3.3,"y":2.6},{"t":1,"e":2,"x":3.5,"y":2.4},{"t":1,"e":2,"x":3.7,"y":2.7},{"t":1,"e":2,"x":3.9,"y":2.3},{"t":1,"e":2,"x":4.1,"y":1.9},
{"t":1,"e":5,"x":0.1,"y":8.8},{"t":1,"e":5,"x":0.3,"y":10.8},{"t":1,"e":5,"x":0.5,"y":11.7},{"t":1,"e":5,"x":0.7,"y":11.4},{"t":1,"e":5,"x":0.9,"y":11.9},{"t":1,"e":5,"x":1.1,"y":12.5},{"t":1,"e":5,"x":1.3,"y":11.6},{"t":1,"e":5,"x":1.5,"y":12.2},{"t":1,"e":5,"x":1.7,"y":11.6},{"t":1,"e":5,"x":1.9,"y":11.4},{"t":1,"e":5,"x":2.1,"y":12.9},{"t":1,"e":5,"x":2.3,"y":11.8},{"t":1,"e":5,"x":2.5,"y":12.4},{"t":1,"e":5,"x":2.7,"y":11.3},{"t":1,"e":5,"x":2.9,"y":11.9},{"t":1,"e":5,"x":3.1,"y":13.6},{"t":1,"e":5,"x":3.3,"y":12.5},{"t":1,"e":5,"x":3.5,"y":10.9},{"t":1,"e":5,"x":3.7,"y":12.1},{"t":1,"e":5,"x":3.9,"y":12.3},
{"t":1,"e":10,"x":0.1,"y":7.9},{"t":1,"e":10,"x":0.3,"y":9.0},{"t":1,"e":10,"x":0.5,"y":10.3},{"t":1,"e":10,"x":0.7,"y":11.1},{"t":1,"e":10,"x":0.9,"y":11.3},{"t":1,"e":10,"x":1.1,"y":11.4},{"t":1,"e":10,"x":1.3,"y":11.5},{"t":1,"e":10,"x":1.5,"y":11.4},{"t":1,"e":10,"x":1.7,"y":11.4},{"t":1,"e":10,"x":1.9,"y":11.5},{"t":1,"e":10,"x":2.1,"y":11.3},{"t":1,"e":10,"x":2.3,"y":11.1},{"t":1,"e":10,"x":2.5,"y":11.4},{"t":1,"e":10,"x":2.7,"y":11.7},{"t":1,"e":10,"x":2.9,"y":12.2},{"t":1,"e":10,"x":3.1,"y":12.4},{"t":1,"e":10,"x":3.3,"y":12.1},{"t":1,"e":10,"x":3.5,"y":11.8},{"t":1,"e":10,"x":3.7,"y":12.1},{"t":1,"e":10,"x":3.9,"y":12.4},{"t":1,"e":10,"x":4.1,"y":12.8},
{"t":1,"e":20,"x":0.1,"y":6.8},{"t":1,"e":20,"x":0.3,"y":7.9},{"t":1,"e":20,"x":0.5,"y":8.6},{"t":1,"e":20,"x":0.7,"y":9.6},{"t":1,"e":20,"x":0.9,"y":10.2},{"t":1,"e":20,"x":1.1,"y":10.4},{"t":1,"e":20,"x":1.3,"y":10.3},{"t":1,"e":20,"x":1.5,"y":10.2},{"t":1,"e":20,"x":1.7,"y":10.1},{"t":1,"e":20,"x":1.9,"y":10.9},{"t":1,"e":20,"x":2.1,"y":11.6},{"t":1,"e":20,"x":2.3,"y":11.7},{"t":1,"e":20,"x":2.5,"y":10.6},{"t":1,"e":20,"x":2.7,"y":11.9},{"t":1,"e":20,"x":2.9,"y":12.0},{"t":1,"e":20,"x":3.1,"y":11.8},{"t":1,"e":20,"x":3.3,"y":11.8},{"t":1,"e":20,"x":3.5,"y":12.0},{"t":1,"e":20,"x":3.7,"y":12.4},{"t":1,"e":20,"x":3.9,"y":12.2},
{"t":1,"e":30,"x":0.1,"y":6.7},{"t":1,"e":30,"x":0.3,"y":6.7},{"t":1,"e":30,"x":0.5,"y":8.7},{"t":1,"e":30,"x":0.7,"y":9.8},{"t":1,"e":30,"x":0.9,"y":10.6},{"t":1,"e":30,"x":1.1,"y":10.2},{"t":1,"e":30,"x":1.3,"y":10.4},{"t":1,"e":30,"x":1.5,"y":10.9},{"t":1,"e":30,"x":1.7,"y":11.0},{"t":1,"e":30,"x":1.9,"y":11.2},{"t":1,"e":30,"x":2.1,"y":11.3},{"t":1,"e":30,"x":2.3,"y":11.4},{"t":1,"e":30,"x":2.5,"y":11.5},{"t":1,"e":30,"x":2.7,"y":11.5},{"t":1,"e":30,"x":2.9,"y":11.5},{"t":1,"e":30,"x":3.1,"y":11.6},{"t":1,"e":30,"x":3.3,"y":11.7},{"t":1,"e":30,"x":3.5,"y":11.7},{"t":1,"e":30,"x":3.7,"y":11.8},{"t":1,"e":30,"x":3.9,"y":11.7},
{"t":1,"e":50,"x":0.1,"y":5.5},{"t":1,"e":50,"x":0.3,"y":6.2},{"t":1,"e":50,"x":0.5,"y":6.9},{"t":1,"e":50,"x":0.7,"y":7.8},{"t":1,"e":50,"x":0.9,"y":8.5},{"t":1,"e":50,"x":1.1,"y":8.8},{"t":1,"e":50,"x":1.3,"y":8.8},{"t":1,"e":50,"x":1.5,"y":8.9},{"t":1,"e":50,"x":1.7,"y":9.2},{"t":1,"e":50,"x":1.9,"y":9.3},{"t":1,"e":50,"x":2.1,"y":9.5},{"t":1,"e":50,"x":2.3,"y":9.4},{"t":1,"e":50,"x":2.5,"y":9.2},{"t":1,"e":50,"x":2.7,"y":9.4},{"t":1,"e":50,"x":2.9,"y":9.5},{"t":1,"e":50,"x":3.1,"y":9.6},{"t":1,"e":50,"x":3.3,"y":9.6},{"t":1,"e":50,"x":3.5,"y":9.6},{"t":1,"e":50,"x":3.7,"y":9.6},{"t":1,"e":50,"x":3.9,"y":9.6},
{"t":1,"e":100,"x":0.1,"y":4.2},{"t":1,"e":100,"x":0.3,"y":4.7},{"t":1,"e":100,"x":0.5,"y":5.0},{"t":1,"e":100,"x":0.7,"y":5.1},{"t":1,"e":100,"x":0.9,"y":5.2},{"t":1,"e":100,"x":1.1,"y":5.2},{"t":1,"e":100,"x":1.3,"y":5.2},{"t":1,"e":100,"x":1.5,"y":5.6},{"t":1,"e":100,"x":1.7,"y":5.8},{"t":1,"e":100,"x":1.9,"y":5.8},{"t":1,"e":100,"x":2.1,"y":5.8},{"t":1,"e":100,"x":2.3,"y":6.1},{"t":1,"e":100,"x":2.5,"y":6.3},{"t":1,"e":100,"x":2.7,"y":6.3},{"t":1,"e":100,"x":2.9,"y":6.3},{"t":1,"e":100,"x":3.1,"y":6.3},{"t":1,"e":100,"x":3.3,"y":6.3},{"t":1,"e":100,"x":3.5,"y":6.4},{"t":1,"e":100,"x":3.7,"y":6.4},{"t":1,"e":100,"x":3.9,"y":6.4},{"t":1,"e":100,"x":4.1,"y":6.4},{"t":1,"e":100,"x":4.3,"y":6.4}
  ]},
  "facet": {
    "column": {"field": "e", "type": "ordinal", "sort": "ascending", "title": "Interaction Strength Eʀʀ  [kʙT₀]",
      "header": {"titleOrient": "top", "labelOrient": "top", "titleFontSize": 27, "titleFontStyle": "italic", "titlePadding": -6,
        "labelFontSize": 19, "labelFontStyle": "italic", "labelLineHeight": 22, "labelPadding": -6,
        "labelExpr": "[datum.value + '', (datum.value * 310) + 'kʙ']"}},
    "row": {"field": "t", "type": "ordinal", "sort": "descending", "title": "Temperature, T  [K]",
      "header": {"titleOrient": "right", "labelOrient": "right", "titleFontSize": 25, "titleFontStyle": "italic", "titleAngle": 270, "titlePadding": 0,
        "labelFontSize": 19, "labelFontStyle": "italic", "labelAngle": 0, "labelAlign": "right", "labelBaseline": "middle", "labelLineHeight": 23, "labelPadding": 2,
        "labelExpr": "[datum.value + 'T₀', datum.value == 2 ? '620K' : datum.value == 1 ? '310K' : format(datum.value * 310, '.1f') + 'K']"}}
  },
  "spec": {
    "width": 70,
    "height": 72,
    "mark": {"type": "circle", "size": 36, "color": "#bf00bf", "opacity": 0.95, "clip": true},
    "encoding": {
      "x": {"field": "x", "type": "quantitative", "scale": {"domain": [0, 4.4], "nice": false, "zero": false},
        "axis": {"values": [1, 2, 3, 4], "title": null, "ticks": false, "domain": false, "grid": true, "gridColor": "#222", "gridOpacity": 1, "gridWidth": 1, "gridDash": [4, 64, 4, 300], "labelPadding": 3, "labelFlush": false}},
      "y": {"field": "y", "type": "quantitative", "scale": {"domain": [1.4, 19.9], "nice": false, "zero": false},
        "axis": {"values": [5, 15], "title": null, "ticks": false, "domain": false, "grid": true, "gridColor": "#222", "gridOpacity": 1, "gridWidth": 1, "gridDash": [4, 62, 4, 300], "labelPadding": 8}}
    }
  }
}]
}
